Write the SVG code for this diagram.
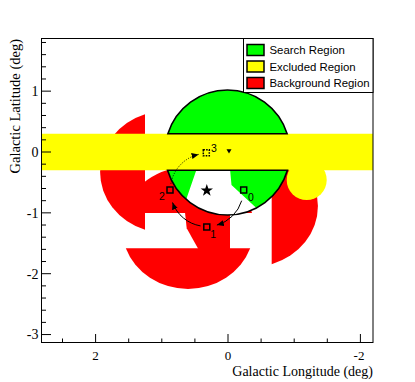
<svg xmlns="http://www.w3.org/2000/svg" width="415" height="382" viewBox="0 0 415 382">
<style>
.bg{fill:#ff0000}
.sr{fill:#00ff00}
.ex{fill:#ffff00}
.ol{fill:none;stroke:#000;stroke-width:1.6}
.tk{fill:none;stroke:#000;stroke-width:1}
.ax{font-family:"Liberation Serif","Times New Roman",serif;font-size:14px;fill:#000}
.axx{font-family:"Liberation Serif","Times New Roman",serif;font-size:13px;fill:#000}
.ttl{font-family:"Liberation Serif","Times New Roman",serif;font-size:14.5px;fill:#000}
.lg{font-family:"Liberation Sans",Arial,sans-serif;font-size:11.4px;fill:#000}
.num{font-family:"Liberation Sans",Arial,sans-serif;font-size:10.5px;fill:#000}
.pt{fill:none;stroke:#000;stroke-width:1.5}
.arr{fill:none;stroke:#000;stroke-width:1}
.box{stroke:#000;stroke-width:1.5}
</style>
<defs>
<clipPath id="cc"><circle cx="227.5" cy="152.5" r="62.5"/></clipPath>
<marker id="ah" markerWidth="7" markerHeight="6" refX="7" refY="3" orient="auto" markerUnits="userSpaceOnUse"><path d="M0,0 L7,3 L0,6 Z" fill="#000"/></marker>
</defs>
<rect width="415" height="382" fill="#fff"/>

<g id="background-region">
<path class="bg" d="M145,114.2 A66,61 0 0 0 145,229.8 Z"/>
<path class="bg" d="M124,213 A66,61 0 0 1 252,213 Z"/>
<polygon class="bg" points="185,212.5 230,212.5 230,249 198.3,249 186.7,228.3"/>
<path class="bg" d="M125.8,248.3 A66,61 0 0 0 250.2,248.3 Z"/>
<path class="bg" d="M271.7,147.8 A66,61 0 0 1 271.7,264.2 Z"/>
</g>

<g id="search-region">
<path class="sr" d="M167.88,133.75 A62.5,62.5 0 0 1 287.12,133.75 Z"/>
<path class="sr" d="M167.57,170.25 A62.5,62.5 0 0 0 287.43,170.25 Z"/>
<polygon fill="#fff" clip-path="url(#cc)" points="196.7,169 230,169 231.5,185 270,220.6 240,235 182.2,211"/>
</g>

<g id="excluded-region">
<rect class="ex" x="41" y="133.75" width="332" height="36.5"/>
<circle class="ex" cx="306.7" cy="180" r="20"/>
</g>

<g id="search-region-outline">
<path class="ol" d="M167.88,133.75 A62.5,62.5 0 0 1 287.12,133.75 Z"/>
<path class="ol" d="M167.57,170.25 A62.5,62.5 0 0 0 287.43,170.25 Z"/>
</g>

<g id="target">
<polygon points="226.5,149.3 231.5,149.3 229,153.6" fill="#000"/>
</g>

<g id="source">
<polygon fill="#000" points="206.8,184 208.33,188.4 212.98,188.49 209.27,191.3 210.62,195.76 206.8,193.1 202.98,195.76 204.33,191.3 200.62,188.49 205.27,188.4"/>
</g>

<g id="connectors">
<path class="arr" d="M241.7,200.7 A36.5,36.5 0 0 1 216.9,225.1" marker-end="url(#ah)"/>
<path class="arr" d="M200.5,225.9 A36.5,36.5 0 0 1 172.5,202.5" marker-end="url(#ah)"/>
<path class="arr" d="M170.9,183.7 A36.5,36.5 0 0 1 198.6,154.4" stroke-dasharray="1,1.6" marker-end="url(#ah)"/>
</g>

<g id="pos-0"><rect class="pt" x="240.7" y="187" width="6" height="6"/><text class="num" x="248" y="200.5">0</text></g>
<g id="pos-1"><rect class="pt" x="203.8" y="224" width="6" height="6"/><text class="num" x="210.3" y="238.3">1</text></g>
<g id="pos-2"><rect class="pt" x="167" y="187" width="6" height="6"/><text class="num" x="159" y="200">2</text></g>
<g id="pos-3"><rect class="pt" x="203.3" y="149.8" width="6" height="6" stroke-dasharray="1.6,1.2"/><text class="num" x="211" y="151.5">3</text></g>

<g id="axes">
<path class="tk" d="M41,42.47h5M41,54.64h5M41,66.81h5M41,78.98h5M41,91.15h10M41,103.32h5M41,115.49h5M41,127.66h5M41,139.83h5M41,152h10M41,164.17h5M41,176.34h5M41,188.51h5M41,200.68h5M41,212.85h10M41,225.02h5M41,237.19h5M41,249.36h5M41,261.53h5M41,273.7h10M41,285.87h5M41,298.04h5M41,310.21h5M41,322.38h5M41,334.55h10"/>
<path class="tk" d="M62.5,343v-4.5M95.6,343v-9M128.7,343v-4.5M161.8,343v-4.5M194.9,343v-4.5M228,343v-9M261.1,343v-4.5M294.2,343v-4.5M327.3,343v-4.5M360.4,343v-9"/>
<g class="ax" text-anchor="end">
<text x="38.5" y="96">1</text>
<text x="38.5" y="156.8">0</text>
<text x="38.5" y="217.7">-1</text>
<text x="38.5" y="278.5">-2</text>
<text x="38.5" y="339.4">-3</text>
</g>
<g class="axx" text-anchor="middle">
<text x="95.6" y="359.5">2</text>
<text x="228" y="359.5">0</text>
<text x="359" y="359.5">-2</text>
</g>
<text class="ttl" x="373" y="375.8" text-anchor="end" style="font-size:14px">Galactic Longitude (deg)</text>
<text class="ttl" transform="translate(19.6,39) rotate(-90)" text-anchor="end">Galactic Latitude (deg)</text>
<rect x="41.5" y="38.5" width="331.5" height="304" fill="none" stroke="#000" stroke-width="1"/>
</g>

<g id="legend">
<rect x="243.5" y="38.5" width="129.5" height="54" fill="#fff" stroke="#000" stroke-width="1"/>
<rect class="box" x="247" y="44.5" width="17" height="11" fill="#00ff00"/>
<rect class="box" x="247" y="61" width="17" height="11" fill="#ffff00"/>
<rect class="box" x="247" y="77.5" width="17" height="11" fill="#ff0000"/>
<text class="lg" x="269.5" y="54.3">Search Region</text>
<text class="lg" x="269.5" y="70.8">Excluded Region</text>
<text class="lg" x="269.5" y="87.3">Background Region</text>
</g>
</svg>
